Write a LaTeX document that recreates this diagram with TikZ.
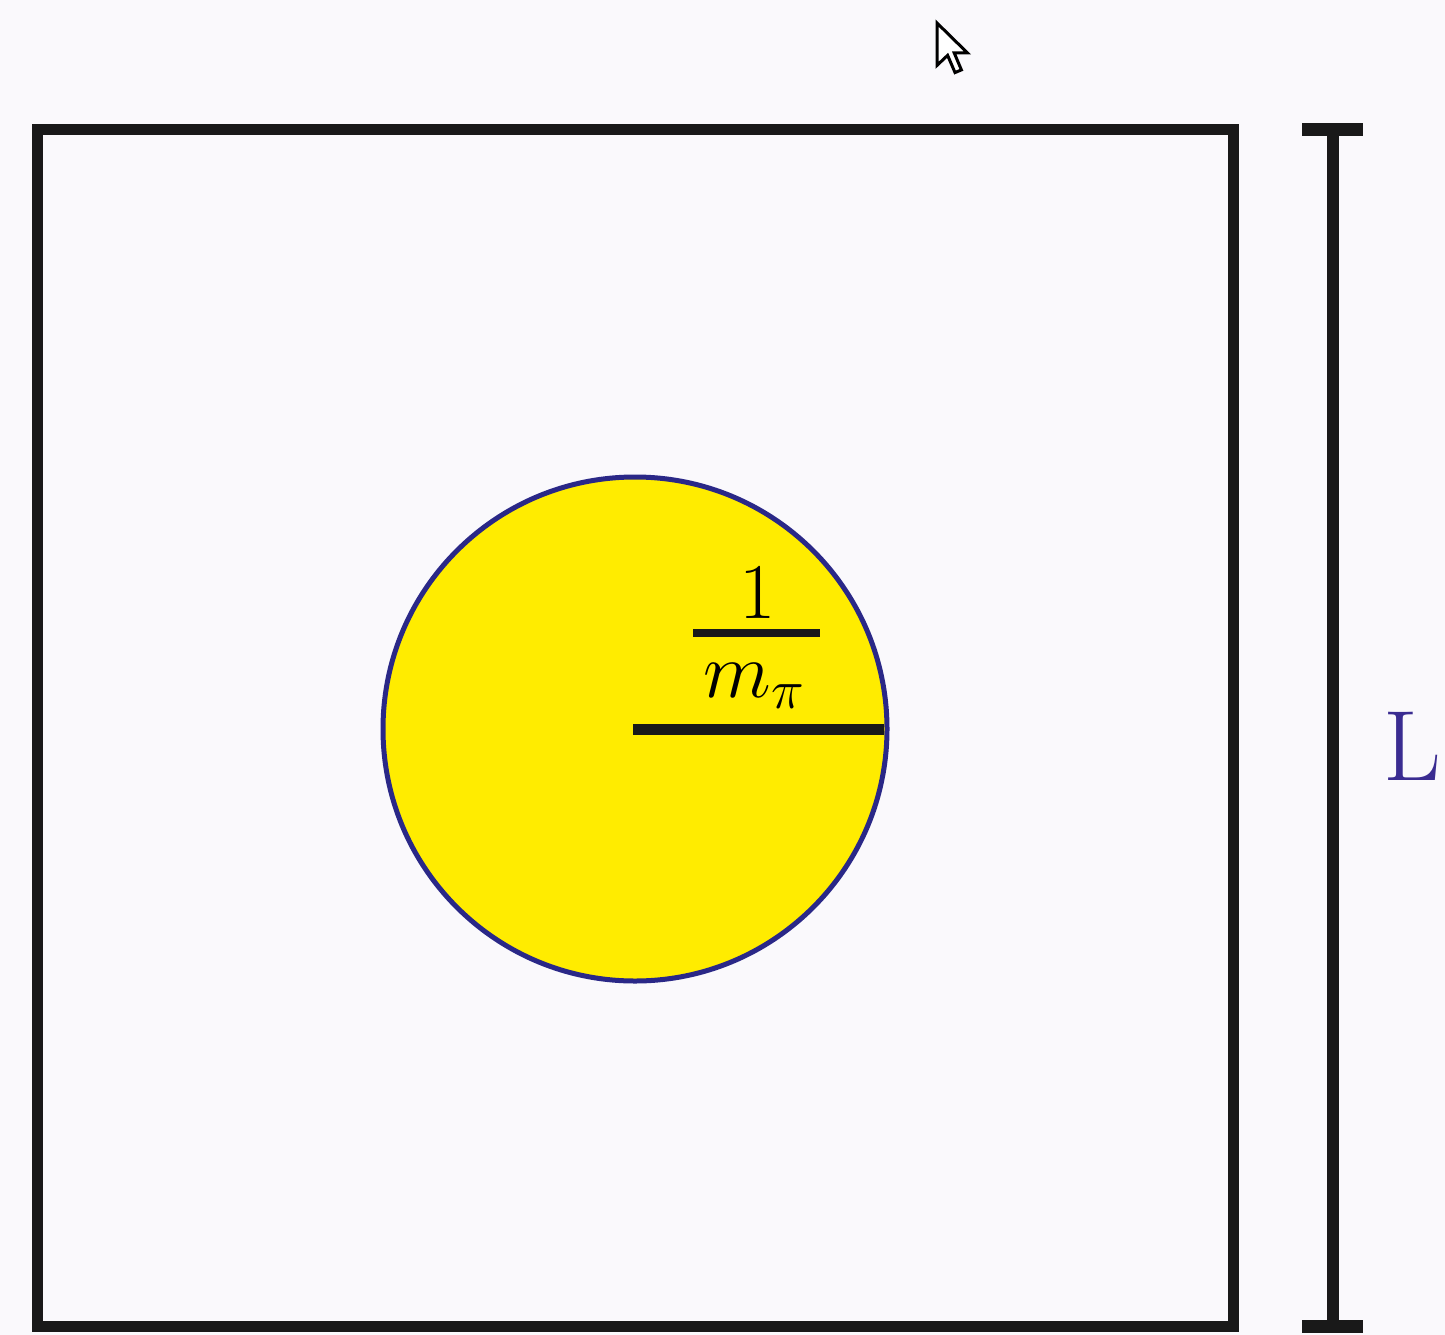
\RequirePackage{fix-cm}
\documentclass[tikz,border=0pt]{standalone}
\usepackage{amsmath}
\definecolor{bgc}{RGB}{250,249,252}
\definecolor{sunyellow}{RGB}{255,236,0}
\definecolor{rimblue}{RGB}{42,40,135}
\definecolor{lblue}{RGB}{58,44,145}
\begin{document}
\begin{tikzpicture}[x=1pt,y=-1pt,
  frame/.style={draw=black!90,line width=11pt},
  bar/.style={draw=black!90,line width=12pt},
  txt/.style={inner sep=0pt,anchor=base}]
\fill[bgc] (0,0) rectangle (1445,1335);
\useasboundingbox (0,0) rectangle (1445,1335);
% box
\draw[frame,line join=miter] (37.5,130) rectangle (1233,1326);
% circle
\coordinate (c) at (635,729);
\fill[sunyellow] (c) circle (252);
\draw[rimblue,line width=5pt] (c) circle (252);
\coordinate (r) at (884,729);
\draw[black!90,line width=11pt] (633,729) -- (r);
% fraction
\node[txt] (num) at (758,618) {\fontsize{79}{90}\selectfont$1$};
\node[txt] (den) at (754,697) {\fontsize{79}{90}\selectfont$m_\pi$};
\draw[black!90,line width=8pt] (693,633) -- (820,633);
% L bar
\coordinate (lt) at (1333,130);
\coordinate (lb) at (1333,1326);
\draw[bar] (lt) -- (lb);
\draw[black!90,line width=13pt] (1302,130) -- (1363,130);
\draw[black!90,line width=13pt] (1302,1326) -- (1363,1326);
\node[txt,text=lblue] (L) at (1412,780) {\fontsize{100}{110}\selectfont L};
% cursor
\begin{scope}[shift={(937,23)},x=2.65pt,y=-2.65pt]
\draw[fill=white,line width=3pt,line join=miter] (0,0) -- (0,16) -- (4,12.2) -- (6.8,18.7) -- (9.2,17.7) -- (6.5,11.3) -- (11.5,11.3) -- cycle;
\end{scope}
\end{tikzpicture}
\end{document}
